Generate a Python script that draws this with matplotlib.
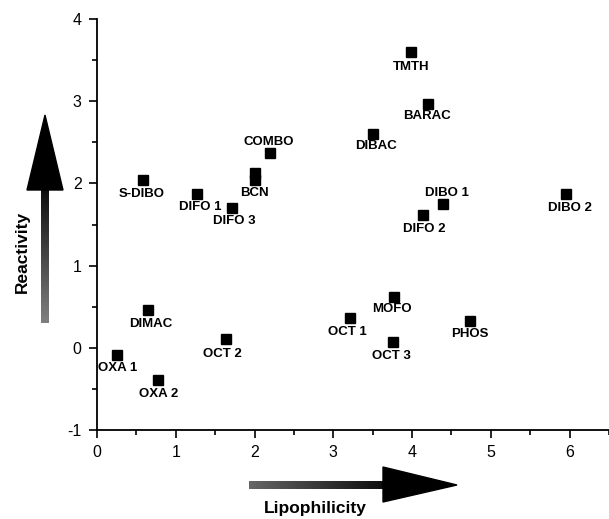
import numpy as np
import matplotlib
matplotlib.use("Agg")
import matplotlib.pyplot as plt
from matplotlib.patches import Polygon

plt.rcParams['font.family'] = ['Liberation Sans', 'DejaVu Sans']
plt.rcParams['axes.unicode_minus'] = False

# data
names = ["TMTH", "BARAC", "DIBAC", "DIBO 1", "DIFO 2", "DIBO 2", "COMBO", "BCN", "BCN",
         "S-DIBO", "DIFO 1", "DIFO 3", "DIMAC", "OXA 1", "OXA 2", "OCT 2", "OCT 1",
         "MOFO", "OCT 3", "PHOS"]
lipo = [3.99, 4.20, 3.50, 4.39, 4.14, 5.96, 2.19, 2.00, 2.00,
        0.59, 1.27, 1.71, 0.65, 0.25, 0.78, 1.64, 3.21,
        3.77, 3.76, 4.74]
react = [3.60, 2.97, 2.60, 1.75, 1.62, 1.87, 2.37, 2.13, 2.04,
         2.04, 1.87, 1.70, 0.46, -0.09, -0.39, 0.11, 0.36,
         0.62, 0.07, 0.32]

# label offsets in pixels (dx, dy down), None = no label
offsets = [(0, 15), (-1, 12), (3, 12), (4, -11), (1, 14), (3, 14), (-1, -11), None, (0, 13),
           (-2, 14), (3, 13), (3, 13), (3, 14), (1, 13), (0, 14), (-4, 15), (-2, 14),
           (-2, 12), (-2, 14), (-1, 13)]

fig = plt.figure(figsize=(6.09, 5.19), dpi=100)
ax = fig.add_axes([97 / 609, 1 - 430 / 519, 1 - 97 / 609, (430 - 19) / 519])

ax.plot(lipo, react, 's', color='black', markersize=6.8, clip_on=False)
for n, x, y, off in zip(names, lipo, react, offsets):
    if off is None:
        continue
    ax.annotate(n, (x, y), xytext=(off[0] * 0.72, -off[1] * 0.72), textcoords='offset points',
                ha='center', va='center', fontsize=9.5, fontweight='bold')

ax.set_xlim(0, 6.5)
ax.set_ylim(-1, 4)
ax.set_xticks([0, 1, 2, 3, 4, 5, 6])
ax.set_yticks([-1, 0, 1, 2, 3, 4])
ax.set_xticks(np.arange(0.5, 6.6, 1), minor=True)
ax.set_yticks(np.arange(-0.5, 4, 1), minor=True)
ax.spines['top'].set_visible(False)
ax.spines['right'].set_visible(False)
for s in ['left', 'bottom']:
    ax.spines[s].set_linewidth(1.3)
ax.tick_params(which='major', direction='out', length=6, width=1.2, labelsize=11.5, pad=5)
ax.tick_params(which='minor', direction='out', length=3.5, width=1.2)

# overlay in pixel coordinates for the big arrows
ov = fig.add_axes([0, 0, 1, 1], zorder=-1)
ov.axis('off')

# vertical arrow: gradient shaft (dark at top, grey at bottom) + head
grad_v = np.linspace(0.05, 0.5, 100).reshape(-1, 1)
ov.imshow(grad_v, cmap='gray', vmin=0, vmax=1, extent=(41, 49, 323, 188), aspect='auto', origin='upper')
ov.add_patch(Polygon([[27, 190], [63, 190], [45, 115]], closed=True, color='black'))
# horizontal arrow: grey at left, dark at right
grad_h = np.linspace(0.4, 0.05, 100).reshape(1, -1)
ov.imshow(grad_h, cmap='gray', vmin=0, vmax=1, extent=(249, 385, 489, 481), aspect='auto', origin='upper')
ov.add_patch(Polygon([[383, 467], [383, 502], [457, 485]], closed=True, color='black'))
ov.set_xlim(0, 609)
ov.set_ylim(519, 0)

fig.text(22 / 609, 1 - 252 / 519, "Reactivity", rotation=90, ha='center', va='center',
         fontsize=12.5, fontweight='bold')
fig.text(315 / 609, 1 - 508 / 519, "Lipophilicity", ha='center', va='center',
         fontsize=12.5, fontweight='bold')

fig.savefig("out.png", dpi=100)
